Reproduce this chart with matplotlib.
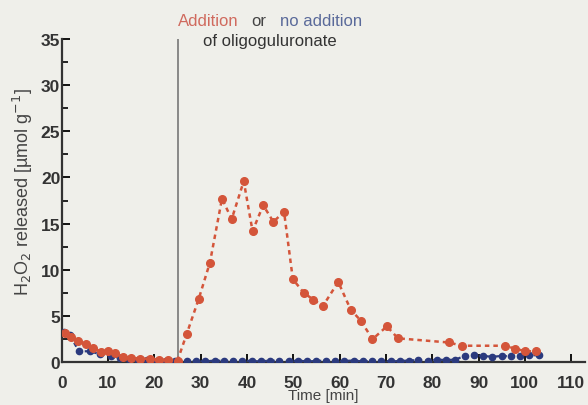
import matplotlib
matplotlib.use("Agg")
import matplotlib.pyplot as plt

# oligoguluronate added (red) vs. not added (blue)
addTime = [0.6, 2.0, 3.5, 5.2, 6.8, 8.5, 9.9, 11.6, 13.2, 15.0, 17.0, 19.0, 21.0, 23.0, 25.0,
           27.0, 29.6, 32.0, 34.6, 36.7, 39.3, 41.2, 43.5, 45.7, 48.0, 49.9, 52.3, 54.3, 56.4,
           59.7, 62.4, 64.6, 67.1, 70.2, 72.6, 83.6, 86.4, 95.7, 97.8, 100.1, 102.3]
addValue = [3.2, 2.7, 2.3, 2.0, 1.6, 1.1, 1.2, 1.0, 0.6, 0.5, 0.4, 0.4, 0.3, 0.3, 0.2,
            3.1, 6.9, 10.8, 17.7, 15.5, 19.6, 14.2, 17.0, 15.2, 16.3, 9.0, 7.5, 6.8, 6.1,
            8.7, 5.7, 4.5, 2.5, 3.9, 2.6, 2.15, 1.8, 1.8, 1.5, 1.2, 1.2]

noAddTime = [0.5, 1.7, 3.7, 6.0, 8.2, 10.7, 12.5, 14.5, 16.5, 18.5, 20.5, 22.5, 24.5,
             27, 29, 31, 33, 35, 37, 39, 41, 43, 45, 47, 49, 51, 53, 55, 57, 59, 61, 63,
             65, 67, 69, 71, 73, 75, 77, 79, 81, 83, 85, 87, 89, 91, 93, 95, 97, 99, 101, 103]
noAddValue = [3.3, 3.0, 1.2, 1.2, 0.9, 0.7, 0.5, 0.4, 0.3, 0.3, 0.2, 0.2, 0.2,
              0.1, 0.15, 0.1, 0.2, 0.15, 0.1, 0.2, 0.15, 0.1, 0.2, 0.15, 0.1, 0.2, 0.1, 0.15,
              0.2, 0.1, 0.15, 0.2, 0.1, 0.15, 0.2, 0.1, 0.15, 0.2, 0.25, 0.2, 0.3, 0.25, 0.3,
              0.7, 0.75, 0.7, 0.6, 0.7, 0.65, 0.7, 0.8, 0.75]

additionTime = 25

plt.rcParams['font.family'] = ['Liberation Sans', 'DejaVu Sans']

fig = plt.figure(figsize=(5.88, 4.06), dpi=100, facecolor="#efefea")
ax = fig.add_axes([0.105, 0.105, 0.89, 0.797])
ax.set_facecolor("#efefea")

ax.plot(noAddTime, noAddValue, color="#2b3a7e", linestyle=(0, (2, 1.5)), linewidth=1.6,
        marker="o", markersize=4.5, zorder=3)
ax.plot(addTime, addValue, color="#d4553a", linestyle=(0, (1.8, 1.6)), linewidth=1.8,
        marker="o", markersize=5.5, zorder=4)

ax.axvline(additionTime, ymin=0, ymax=1, color="#777777", linewidth=1.2, zorder=2)

ax.set_xlim(0, 113)
ax.set_ylim(0, 35)
ax.set_xticks(range(0, 111, 10))
ax.set_yticks(range(0, 36, 5))
ax.set_yticks([2.5 + 5 * i for i in range(7)], minor=True)
ax.tick_params(axis="both", direction="in", length=6, width=1.3, labelsize=12.5, pad=1)
ax.tick_params(axis="x", pad=9)
ax.tick_params(axis="y", which="minor", direction="in", length=4, width=1.2)
for lab in ax.get_xticklabels() + ax.get_yticklabels():
    lab.set_fontweight("bold")
    lab.set_color("#333333")

ax.spines["top"].set_visible(False)
ax.spines["right"].set_visible(False)
ax.spines["left"].set_linewidth(1.6)
ax.spines["bottom"].set_linewidth(1.6)
ax.spines["left"].set_color("#333333")
ax.spines["bottom"].set_color("#333333")

ax.set_xlabel("Time [min]", fontsize=11, color="#444444", labelpad=-1)
ax.set_ylabel("H$_2$O$_2$ released [µmol g$^{-1}$]", fontsize=13, color="#444444")
ax.yaxis.set_label_coords(-0.052, 0.53)

fig.text(0.303, 0.946, "Addition", color="#d06a5e", fontsize=12, ha="left", va="center")
fig.text(0.428, 0.946, "or", color="#444444", fontsize=12, ha="left", va="center")
fig.text(0.476, 0.946, "no addition", color="#5a6a9a", fontsize=12, ha="left", va="center")
fig.text(0.345, 0.898, "of oligoguluronate", color="#333333", fontsize=12, ha="left",
         va="center")

fig.savefig("out.png", dpi=100, facecolor=fig.get_facecolor())
